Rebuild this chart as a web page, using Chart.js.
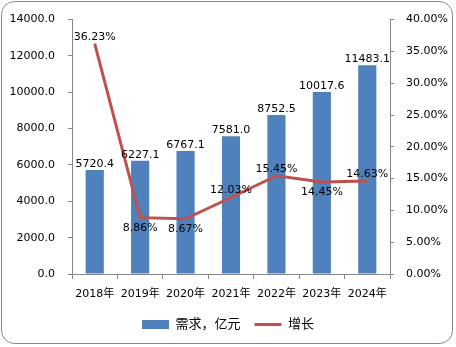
<!DOCTYPE html>
<html>
<head>
<meta charset="utf-8">
<script src="https://cdn.jsdelivr.net/npm/chart.js"></script>
<style>
  html, body { margin: 0; padding: 0; background: #fff; }
  #wrap { width: 456px; height: 347px; position: relative; }
</style>
</head>
<body>
<div id="wrap"><canvas id="grafico"></canvas></div>
<script>
const years = ['2018年', '2019年', '2020年', '2021年', '2022年', '2023年', '2024年'];
const demand = [5720.4, 6227.1, 6767.1, 7581.0, 8752.5, 10017.6, 11483.1];
const growth = [36.23, 8.86, 8.67, 12.03, 15.45, 14.45, 14.63];
const leftMax = 14000;
const leftStep = 2000;
const rightMax = 40;
const rightStep = 5;

const FONT = '"DejaVu Sans", "Noto Sans CJK SC", sans-serif';
const AXIS = '#868686';

// where each growth label sits relative to its point
const growthLabelPos = ['top', 'bottom', 'bottom', 'top', 'top', 'bottom', 'top'];

const chartBorder = {
  id: 'chartBorder',
  beforeDraw(chart) {
    const ctx = chart.ctx;
    ctx.save();
    ctx.strokeStyle = AXIS;
    ctx.lineWidth = 1;
    ctx.beginPath();
    ctx.roundRect(1.5, 1.5, 451, 342, 13);
    ctx.stroke();
    ctx.restore();
  }
};

const valueLabels = {
  id: 'valueLabels',
  afterDatasetsDraw(chart) {
    const ctx = chart.ctx;
    ctx.save();
    ctx.font = '11px ' + FONT;
    ctx.fillStyle = '#000';
    ctx.textAlign = 'center';
    chart.getDatasetMeta(0).data.forEach((bar, i) => {
      ctx.textBaseline = 'alphabetic';
      ctx.fillText(demand[i].toFixed(1), bar.x, bar.y - 3);
    });
    chart.getDatasetMeta(1).data.forEach((pt, i) => {
      const txt = growth[i].toFixed(2) + '%';
      if (growthLabelPos[i] === 'top') {
        ctx.textBaseline = 'alphabetic';
        ctx.fillText(txt, pt.x, pt.y - 4);
      } else {
        ctx.textBaseline = 'top';
        ctx.fillText(txt, pt.x, pt.y + 5);
      }
    });
    ctx.restore();
  }
};

const ctx = document.querySelector('#grafico').getContext('2d');
const miGrafico = new Chart(ctx, {
  data: {
    labels: years,
    datasets: [
      {
        type: 'bar',
        label: '需求，亿元',
        data: demand,
        yAxisID: 'y',
        backgroundColor: '#4F81BD',
        borderWidth: 0,
        barPercentage: 0.8,
        categoryPercentage: 0.5,
        order: 1
      },
      {
        type: 'line',
        label: '增长',
        data: growth,
        yAxisID: 'y1',
        borderColor: '#C0504D',
        backgroundColor: '#C0504D',
        borderWidth: 3,
        pointRadius: 0,
        tension: 0,
        order: 0
      }
    ]
  },
  options: {
    responsive: true,
    maintainAspectRatio: false,
    animation: false,
    layout: { padding: { left: 0, right: 0, top: 12, bottom: 6 } },
    plugins: {
      legend: {
        position: 'bottom',
        labels: {
          usePointStyle: true,
          pointStyleWidth: 27,
          boxHeight: 9,
          padding: 14,
          color: '#000',
          font: { family: FONT, size: 13 },
          generateLabels(chart) {
            return chart.data.datasets.map((ds, i) => ({
              text: ds.label,
              fillStyle: ds.backgroundColor,
              strokeStyle: ds.borderColor || ds.backgroundColor,
              lineWidth: ds.type === 'line' ? 3 : 0,
              pointStyle: ds.type === 'line' ? 'line' : 'rect',
              datasetIndex: i,
              hidden: false
            }));
          }
        }
      },
      tooltip: { enabled: false }
    },
    scales: {
      x: {
        offset: true,
        grid: { offset: true, drawOnChartArea: false, drawTicks: true, tickLength: 5, color: AXIS },
        border: { display: true, color: AXIS },
        ticks: { color: '#000', font: { family: FONT, size: 11 }, padding: 9, maxRotation: 0 },
        afterFit(s) { s.height = 30; }
      },
      y: {
        position: 'left',
        min: 0,
        max: leftMax,
        grid: { drawOnChartArea: false, drawTicks: true, tickLength: 4, color: AXIS },
        border: { display: true, color: AXIS },
        ticks: {
          stepSize: leftStep,
          color: '#000',
          padding: 13,
          font: { family: FONT, size: 11 },
          callback: v => v.toFixed(1)
        },
        afterFit(s) { s.width = 72; }
      },
      y1: {
        position: 'right',
        min: 0,
        max: rightMax,
        grid: { drawOnChartArea: false, drawTicks: true, tickLength: 4, color: AXIS },
        border: { display: true, color: AXIS },
        ticks: {
          stepSize: rightStep,
          color: '#000',
          padding: 12,
          font: { family: FONT, size: 11 },
          callback: v => v.toFixed(2) + '%'
        },
        afterFit(s) { s.width = 66; }
      }
    }
  },
  plugins: [chartBorder, valueLabels]
});
</script>
</body>
</html>
